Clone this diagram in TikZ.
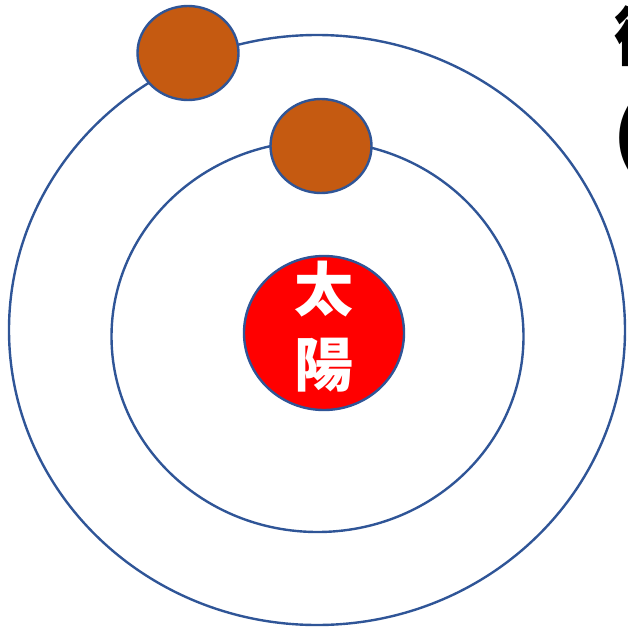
\documentclass[tikz,border=0pt]{standalone}
\usepackage{fontspec}
\usepackage{tikz}
\newfontfamily\cjk{Noto Sans CJK JP}
\definecolor{orbitc}{HTML}{2F5597}
\definecolor{planetc}{HTML}{C55A11}
\definecolor{sunc}{HTML}{FF0000}

\begin{document}
\begin{tikzpicture}[x=1pt, y=-1pt]
  \useasboundingbox (0,0) rectangle (628,629);
  \clip (0,0) rectangle (628,629);
  \draw[orbitc, line width=2.4pt] (317,330) ellipse (308 and 295);
  \draw[orbitc, line width=2.4pt] (317.5,336.5) ellipse (206 and 195.5);
  \filldraw[fill=sunc, draw=orbitc, line width=2.4pt] (324,333) ellipse (80 and 77);
  \node[text=white, align=center, inner sep=0pt, font=\cjk\bfseries\fontsize{59}{75}\selectfont] (sun) at (324,327) {太\\陽};
  \filldraw[fill=planetc, draw=orbitc, line width=2.4pt] (188,53) ellipse (50.5 and 47);
  \filldraw[fill=planetc, draw=orbitc, line width=2.4pt] (321,146) ellipse (50.5 and 47);
  \node[anchor=north west, inner sep=0pt, align=left, font=\cjk\bfseries\fontsize{64}{98}\selectfont] (label) at (614,6) {衛星\\(};
\end{tikzpicture}
\end{document}
